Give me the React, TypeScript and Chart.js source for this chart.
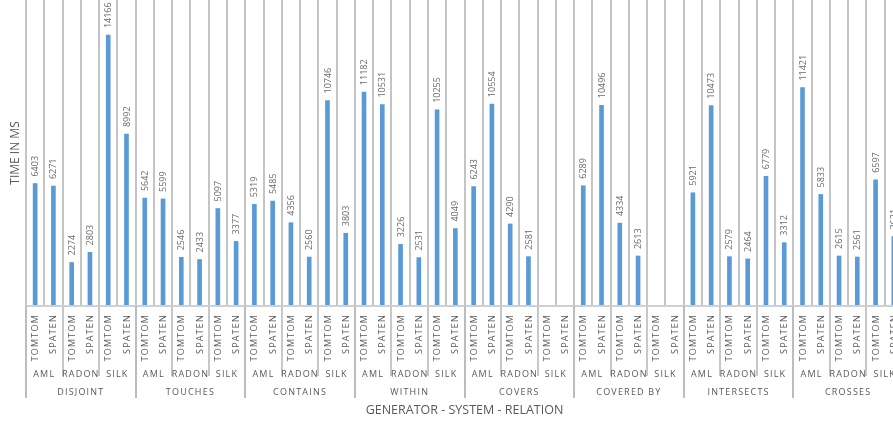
import React, { useEffect, useRef } from "react";
import { Chart, registerables } from "chart.js";

Chart.register(...registerables);

// Category hierarchy
const relations = ["DISJOINT", "TOUCHES", "CONTAINS", "WITHIN", "COVERS", "COVERED BY", "INTERSECTS", "CROSSES"];
const systems = ["AML", "RADON", "SILK"];
const generators = ["TOMTOM", "SPATEN"];

// Times in ms, order per relation: AML-TOMTOM, AML-SPATEN, RADON-TOMTOM, RADON-SPATEN, SILK-TOMTOM, SILK-SPATEN
const disjoint = [6403, 6271, 2274, 2803, 14166, 8992];
const touches = [5642, 5599, 2546, 2433, 5097, 3377];
const contains = [5319, 5485, 4356, 2560, 10746, 3803];
const within = [11182, 10531, 3226, 2531, 10255, 4049];
const covers = [6243, 10554, 4290, 2581, null, null];
const coveredBy = [6289, 10496, 4334, 2613, null, null];
const intersects = [5921, 10473, 2579, 2464, 6779, 3312];
const crosses = [11421, 5833, 2615, 2561, 6597, 3631];

const yMax = 16000;
const yTitle = "TIME IN MS";
const xTitle = "GENERATOR - SYSTEM - RELATION";

const timesMs: (number | null)[] = [
  ...disjoint, ...touches, ...contains, ...within,
  ...covers, ...coveredBy, ...intersects, ...crosses,
];

const level1: string[] = [];
const level2: string[] = [];
const level3: string[] = [];
relations.forEach((r) =>
  systems.forEach((s) =>
    generators.forEach((g) => {
      level1.push(g);
      level2.push(s);
      level3.push(r);
    })
  )
);
const labels = level1.map((g, i) => `${level3[i]} ${level2[i]} ${g}`);

const FONT = "'Open Sans', 'Noto Sans', sans-serif";
const TEXT = "#595959";

const multiLevelPlugin = {
  id: "multiLevel",
  beforeDatasetsDraw(chart: any) {
    const { ctx, chartArea, scales } = chart;
    const x = scales.x;
    const n = chart.data.labels.length;
    const w = x.width / n;
    ctx.save();
    // vertical gridlines at category boundaries
    ctx.lineWidth = 2;
    ctx.strokeStyle = "#c4c4c4";
    for (let k = 0; k <= n; k++) {
      const px = Math.round(x.getPixelForValue(0) - w / 2 + k * w);
      ctx.beginPath();
      ctx.moveTo(px, chartArea.top);
      ctx.lineTo(px, chartArea.bottom);
      ctx.stroke();
    }
    ctx.restore();
  },
  afterDatasetsDraw(chart: any) {
    const { ctx } = chart;
    const meta = chart.getDatasetMeta(0);
    const data = chart.data.datasets[0].data;
    ctx.save();
    ctx.font = `9px ${FONT}`;
    ctx.fillStyle = "#6a6a6a";
    meta.data.forEach((bar: any, i: number) => {
      const v = data[i];
      if (v == null) return;
      ctx.save();
      ctx.translate(bar.x + 0.5, bar.y - 7);
      ctx.rotate(-Math.PI / 2);
      ctx.textAlign = "left";
      ctx.textBaseline = "middle";
      ctx.fillText(String(v), 0, 0);
      ctx.restore();
    });
    ctx.restore();
  },
  afterDraw(chart: any) {
    const { ctx, chartArea, scales } = chart;
    const x = scales.x;
    const n = chart.data.labels.length;
    const w = x.width / n;
    const bottom = chartArea.bottom;
    ctx.save();
    // axis line
    ctx.strokeStyle = "#d0d0d0";
    ctx.lineWidth = 2;
    ctx.beginPath();
    ctx.moveTo(chartArea.left, bottom);
    ctx.lineTo(chartArea.right, bottom);
    ctx.stroke();

    // separators in label area
    for (let k = 0; k <= n; k++) {
      const px = Math.round(x.getPixelForValue(0) - w / 2 + k * w);
      if (k % 6 === 0) {
        ctx.strokeStyle = "#bcbcbc";
        ctx.beginPath();
        ctx.moveTo(px, bottom);
        ctx.lineTo(px, bottom + 92);
        ctx.stroke();
      } else if (k % 2 === 0) {
        ctx.strokeStyle = "#c8c8c8";
        ctx.beginPath();
        ctx.moveTo(px, bottom);
        ctx.lineTo(px, bottom + 70);
        ctx.stroke();
      }
    }

    ctx.fillStyle = TEXT;
    ctx.font = `9px ${FONT}`;
    (ctx as any).letterSpacing = "1.2px";
    // level 1 (rotated)
    for (let i = 0; i < n; i++) {
      const cx = x.getPixelForValue(i);
      ctx.save();
      ctx.translate(cx + 0.5, bottom + 8);
      ctx.rotate(-Math.PI / 2);
      ctx.textAlign = "right";
      ctx.textBaseline = "middle";
      ctx.fillText(level1[i], 0, 0);
      ctx.restore();
    }
    ctx.textAlign = "center";
    ctx.textBaseline = "middle";
    // level 2
    for (let i = 0; i < n; i += 2) {
      const cx = (x.getPixelForValue(i) + x.getPixelForValue(i + 1)) / 2;
      ctx.fillText(level2[i], cx, bottom + 68);
    }
    // level 3
    for (let i = 0; i < n; i += 6) {
      const cx = (x.getPixelForValue(i) + x.getPixelForValue(i + 5)) / 2;
      ctx.fillText(level3[i], cx, bottom + 86);
    }
    (ctx as any).letterSpacing = "0px";

    // axis titles
    ctx.font = `12.5px ${FONT}`;
    ctx.fillText(xTitle, (chartArea.left + chartArea.right) / 2, bottom + 104);
    ctx.save();
    ctx.translate(16, (chartArea.top + chartArea.bottom) / 2);
    ctx.rotate(-Math.PI / 2);
    ctx.font = `12px ${FONT}`;
    ctx.fillText(yTitle, 0, 0);
    ctx.restore();
    ctx.restore();
  },
};

export default function App() {
  const ref = useRef<HTMLCanvasElement | null>(null);
  useEffect(() => {
    if (!ref.current) return;
    const chart = new Chart(ref.current, {
      type: "bar",
      data: {
        labels,
        datasets: [
          {
            data: timesMs,
            backgroundColor: "#5b9bd5",
            barThickness: 4,
          },
        ],
      },
      options: {
        responsive: false,
        animation: false,
        devicePixelRatio: 1,
        layout: { padding: { left: 26, right: 0, top: 0, bottom: 119 } },
        plugins: { legend: { display: false }, tooltip: { enabled: false } },
        scales: {
          x: { display: false, offset: true },
          y: { display: false, min: 0, max: yMax },
        },
      },
      plugins: [multiLevelPlugin],
    });
    return () => chart.destroy();
  }, []);
  return (
    <div
      style={{
        position: "fixed",
        left: 0,
        top: 0,
        width: 893,
        height: 425,
        overflow: "hidden",
        background: "#fff",
      }}
    >
      <canvas ref={ref} width={903} height={425} style={{ width: 903, height: 425, display: "block" }} />
    </div>
  );
}
